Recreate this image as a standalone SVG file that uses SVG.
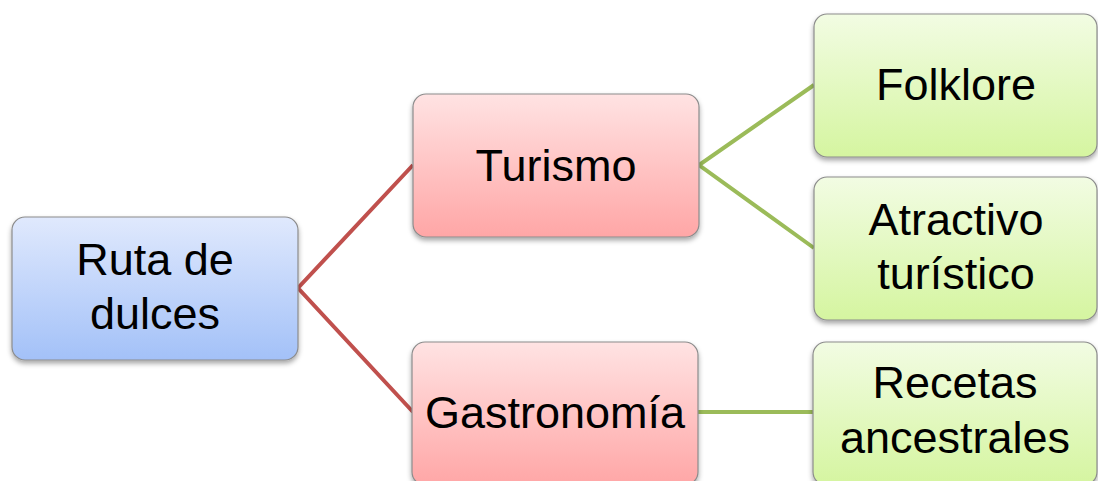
<svg xmlns="http://www.w3.org/2000/svg" width="1098" height="481" viewBox="0 0 1098 481">
<style>
.box{stroke:#8c8c8c;stroke-width:1.2;filter:url(#sh)}
.t{font-family:"Liberation Sans",Arial,sans-serif;font-size:45px;fill:#000;text-anchor:middle}
.red{stroke:#c0504d;stroke-width:4;fill:none}
.grn{stroke:#9bbb59;stroke-width:4;fill:none}
</style>
<defs>
<linearGradient id="gb" x1="0" y1="0" x2="0" y2="1"><stop offset="0" stop-color="#e0e9fd"/><stop offset="1" stop-color="#a3c1f8"/></linearGradient>
<linearGradient id="gr" x1="0" y1="0" x2="0" y2="1"><stop offset="0" stop-color="#ffe3e3"/><stop offset="1" stop-color="#ffa6a6"/></linearGradient>
<linearGradient id="gg" x1="0" y1="0" x2="0" y2="1"><stop offset="0" stop-color="#f2fce3"/><stop offset="1" stop-color="#d5f5a0"/></linearGradient>
<filter id="sh" x="-10%" y="-10%" width="120%" height="130%"><feDropShadow dx="0" dy="3" stdDeviation="2.5" flood-color="#000" flood-opacity="0.35"/></filter>
</defs>
<g id="connectors">
<polyline class="red" points="413,165 298,288 413,412"/>
<polyline class="grn" points="814,85 699,165 814,248"/>
<line class="grn" x1="697" y1="412" x2="813" y2="412"/>
</g>
<g id="root"><rect class="box" x="12" y="217" width="286" height="143" rx="13" fill="url(#gb)"/><text class="t" x="155" y="275">Ruta de</text><text class="t" x="155" y="329">dulces</text></g>
<g id="turismo"><rect class="box" x="413" y="94" width="286" height="143" rx="13" fill="url(#gr)"/><text class="t" x="556" y="181">Turismo</text></g>
<g id="gastronomia"><rect class="box" x="412" y="342" width="286" height="143" rx="13" fill="url(#gr)"/><text class="t" x="555" y="428">Gastronomía</text></g>
<g id="folklore"><rect class="box" x="814" y="14" width="283" height="143" rx="13" fill="url(#gg)"/><text class="t" x="956" y="100">Folklore</text></g>
<g id="atractivo"><rect class="box" x="814" y="177" width="283" height="143" rx="13" fill="url(#gg)"/><text class="t" x="956" y="235">Atractivo</text><text class="t" x="956" y="289">turístico</text></g>
<g id="recetas"><rect class="box" x="813" y="342" width="284" height="143" rx="13" fill="url(#gg)"/><text class="t" x="955" y="398">Recetas</text><text class="t" x="955" y="453">ancestrales</text></g>
</svg>
